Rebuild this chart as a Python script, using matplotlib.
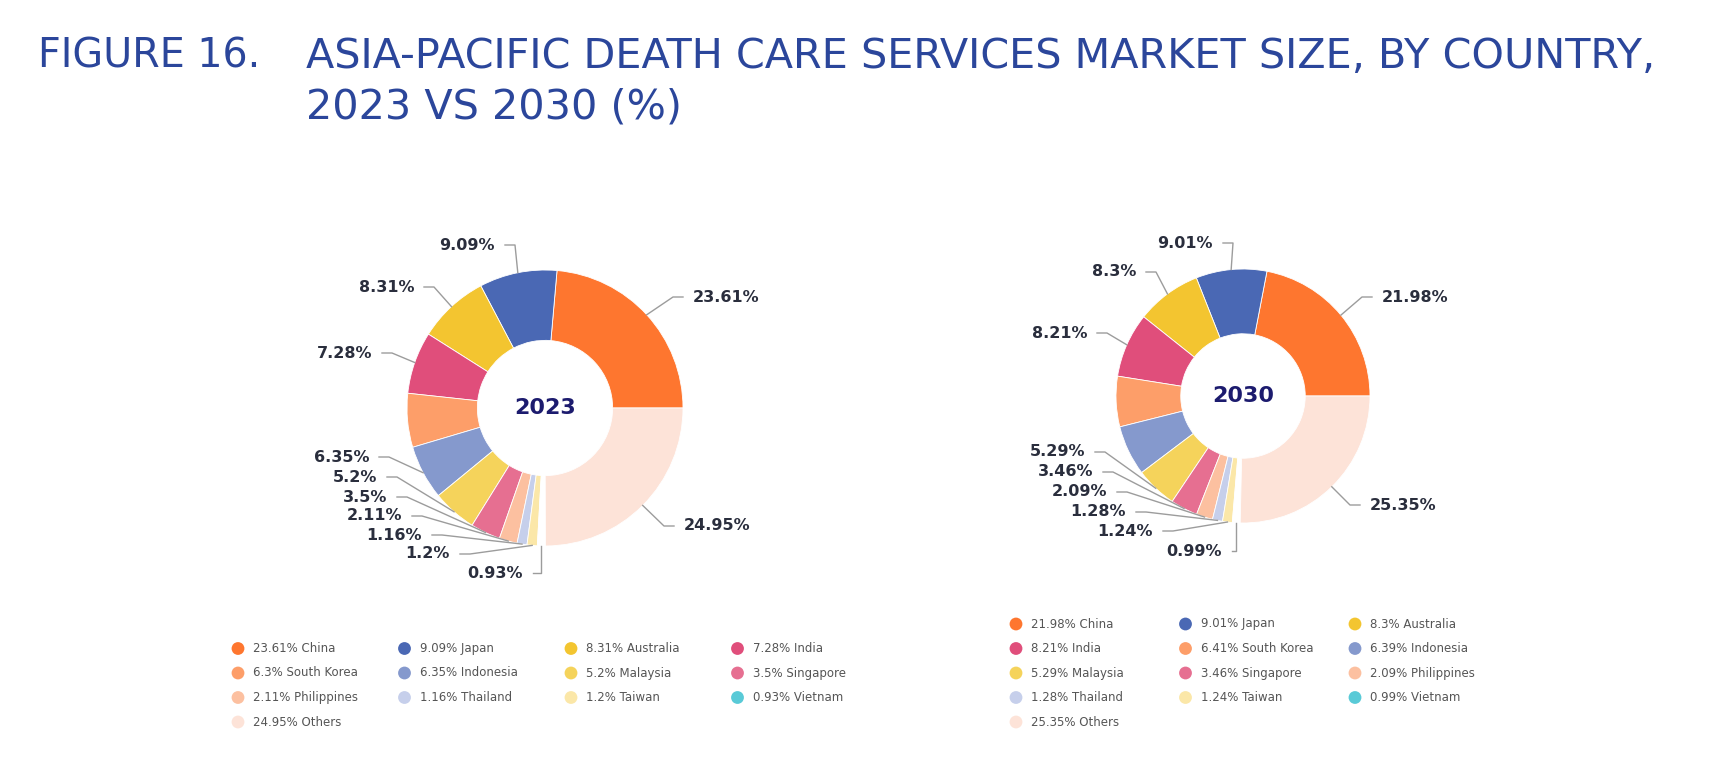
import matplotlib
matplotlib.use('Agg')
import matplotlib.pyplot as plt
import numpy as np

W, H = 1717, 771

countries = ['China', 'Japan', 'Australia', 'India', 'South Korea', 'Indonesia', 'Malaysia',
             'Singapore', 'Philippines', 'Thailand', 'Taiwan', 'Vietnam', 'Others']
share_2023 = [23.61, 9.09, 8.31, 7.28, 6.3, 6.35, 5.2, 3.5, 2.11, 1.16, 1.2, 0.93, 24.95]
share_2030 = [21.98, 9.01, 8.3, 8.21, 6.41, 6.39, 5.29, 3.46, 2.09, 1.28, 1.24, 0.99, 25.35]
colors = ['#fe762f', '#4a68b4', '#f3c530', '#e04e7b', '#fd9e69', '#8599cd', '#f5d35b',
          '#e66f91', '#fcc0a0', '#c6cfeb', '#fbe7a8', '#59cad7', '#fde3d8']

# label layout in pixels: side, text edge x, text centre y
labels_2023 = {'China': ('R', 693, 297), 'Japan': ('L', 495, 245), 'Australia': ('L', 414, 287),
               'India': ('L', 372, 353), 'Indonesia': ('L', 369, 457), 'Malaysia': ('L', 377, 477),
               'Singapore': ('L', 387, 497), 'Philippines': ('L', 402, 516), 'Thailand': ('L', 422, 535),
               'Taiwan': ('L', 450, 554), 'Vietnam': ('B', 523, 573), 'Others': ('R', 684, 526)}
labels_2030 = {'China': ('R', 1382, 297), 'Japan': ('L', 1213, 243), 'Australia': ('L', 1136, 272),
               'India': ('L', 1087, 333), 'Malaysia': ('L', 1085, 452), 'Singapore': ('L', 1093, 472),
               'Philippines': ('L', 1107, 492), 'Thailand': ('L', 1126, 512), 'Taiwan': ('L', 1153, 531),
               'Vietnam': ('B', 1222, 551), 'Others': ('R', 1370, 505)}

title_col = '#2b469b'
lab_col = '#2a2e3d'
line_col = '#9c9c9c'

fig = plt.figure(figsize=(W / 100, H / 100), dpi=100)
ax = fig.add_axes([0, 0, 1, 1])


def donut(cx, cy, r, shares, year, labels):
    wcol = ['white' if c == 'Vietnam' else col for c, col in zip(countries, colors)]
    wedges, _ = ax.pie(shares, colors=wcol, startangle=0, counterclock=True, radius=r,
                       center=(cx, H - cy), wedgeprops=dict(width=r * 0.51, edgecolor='white', linewidth=0.6))
    for w, name, v in zip(wedges, countries, shares):
        if name not in labels:
            continue
        side, tx, ty = labels[name]
        a = np.deg2rad((w.theta1 + w.theta2) / 2)
        sx, sy = cx + r * np.cos(a), (H - cy) + r * np.sin(a)
        ty = H - ty
        if side == 'L':
            px, py = [sx, tx + 20, tx + 10], [sy, ty, ty]
            ha = 'right'
        elif side == 'R':
            px, py = [sx, tx - 20, tx - 10], [sy, ty, ty]
            ha = 'left'
        else:
            px, py = [sx, sx, tx + 10], [sy, ty, ty]
            ha = 'right'
        ax.plot(px, py, color=line_col, lw=1)
        ax.text(tx, ty, f'{v:g}%', ha=ha, va='center', fontsize=11.5, fontweight='bold', color=lab_col)
    ax.text(cx, H - cy, year, ha='center', va='center', fontsize=16, fontweight='bold', color='#1c1b6e')


def legend(x0, y0, dx, dy, ncol, shares):
    for i, (name, v, col) in enumerate(zip(countries, shares, colors)):
        x = x0 + (i % ncol) * dx
        y = H - (y0 + (i // ncol) * dy)
        ax.scatter([x], [y], s=85, color=col, edgecolors='none')
        ax.text(x + 15, y, f'{v:g}% {name}', ha='left', va='center', fontsize=8.5, color='#555555')


donut(545, 408, 138, share_2023, '2023', labels_2023)
donut(1243, 396, 127, share_2030, '2030', labels_2030)
legend(238, 648.5, 166.5, 24.5, 4, share_2023)
legend(1016, 624, 169.5, 24.5, 3, share_2030)

ax.set_xlim(0, W)
ax.set_ylim(0, H)
ax.set_aspect('equal')
ax.axis('off')

fig.text(38 / W, 1 - 68 / H, 'FIGURE 16.', fontsize=28.5, color=title_col, va='baseline')
fig.text(306 / W, 1 - 68 / H, 'ASIA-PACIFIC DEATH CARE SERVICES MARKET SIZE, BY COUNTRY,',
         fontsize=29.8, color=title_col, va='baseline')
fig.text(306 / W, 1 - 118 / H, '2023 VS 2030 (%)', fontsize=29.8, color=title_col, va='baseline')

fig.savefig('out.png', dpi=100)
